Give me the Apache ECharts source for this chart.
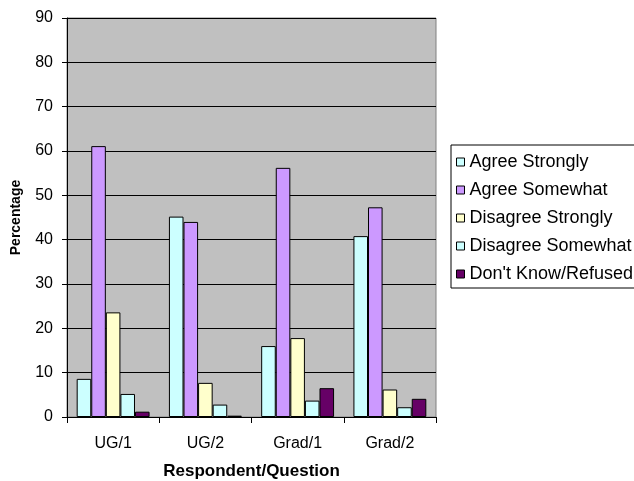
<!DOCTYPE html>
<html><head><meta charset="utf-8">
<script src="https://cdn.jsdelivr.net/npm/echarts@6/dist/echarts.min.js"></script>
<style>html,body{margin:0;padding:0;background:#fff;overflow:hidden}#c{width:634px;height:481px}</style>
</head><body><div id="c"></div>
<script>
const categories = ['UG/1', 'UG/2', 'Grad/1', 'Grad/2'];
const agreeStrongly = [8.6, 45.2, 16.0, 40.8];
const agreeSomewhat = [61.1, 44.0, 56.2, 47.3];
const disagreeStrongly = [23.6, 7.7, 17.8, 6.2];
const disagreeSomewhat = [5.2, 2.8, 3.7, 2.2];
const dontKnow = [1.2, 0.3, 6.5, 4.1];
const seriesNames = ['Agree Strongly', 'Agree Somewhat', 'Disagree Strongly', 'Disagree Somewhat', "Don't Know/Refused"];
const seriesData = [agreeStrongly, agreeSomewhat, disagreeStrongly, disagreeSomewhat, dontKnow];
const colors = ['#CCFFFF', '#CC99FF', '#FFFFCC', '#CCFFFF', '#660066'];

const chart = echarts.init(document.getElementById('c'), null, {renderer: 'canvas'});
const font = 'Liberation Sans, Arial, sans-serif';
chart.setOption({
  animation: false,
  textStyle: {fontFamily: font},
  grid: {left: 67, right: 198, top: 18, bottom: 64, outerBoundsMode: 'none', containLabel: false, show: true, backgroundColor: '#C0C0C0', borderColor: '#808080', borderWidth: 1},
  legend: {
    orient: 'vertical', left: 451, top: 145,
    padding: [7, 40, 4, 5],
    itemWidth: 8, itemHeight: 8, itemGap: 8,
    icon: 'rect',
    borderColor: '#000', borderWidth: 1,
    backgroundColor: '#fff',
    textStyle: {fontSize: 18, color: '#000', fontFamily: font, lineHeight: 20},
    data: seriesNames.map((n) => ({name: n, itemStyle: {borderColor: '#000', borderWidth: 1}}))
  },
  xAxis: {
    type: 'category', data: categories,
    name: 'Respondent/Question', nameLocation: 'middle', nameGap: 46,
    nameTextStyle: {fontWeight: 'bold', fontSize: 17, color: '#000', fontFamily: font},
    axisLine: {lineStyle: {color: '#000'}},
    axisTick: {show: true, length: 6, lineStyle: {color: '#000'}},
    axisLabel: {fontSize: 16, color: '#000', margin: 19, fontFamily: font}
  },
  yAxis: {
    type: 'value', min: 0, max: 90, interval: 10,
    name: 'Percentage', nameLocation: 'middle', nameGap: 44, nameRotate: 90,
    nameTextStyle: {fontWeight: 'bold', fontSize: 14, color: '#000', fontFamily: font},
    axisLine: {show: true, lineStyle: {color: '#000'}},
    axisTick: {show: true, length: 5, lineStyle: {color: '#000'}},
    axisLabel: {fontSize: 16, color: '#000', margin: 14, fontFamily: font},
    splitLine: {lineStyle: {color: '#000', width: 1}}
  },
  series: seriesData.map((d, i) => ({
    name: seriesNames[i], type: 'bar', data: d,
    barGap: '0%', barCategoryGap: '21%',
    itemStyle: {color: colors[i], borderColor: '#000', borderWidth: 1}
  }))
});
</script></body></html>
